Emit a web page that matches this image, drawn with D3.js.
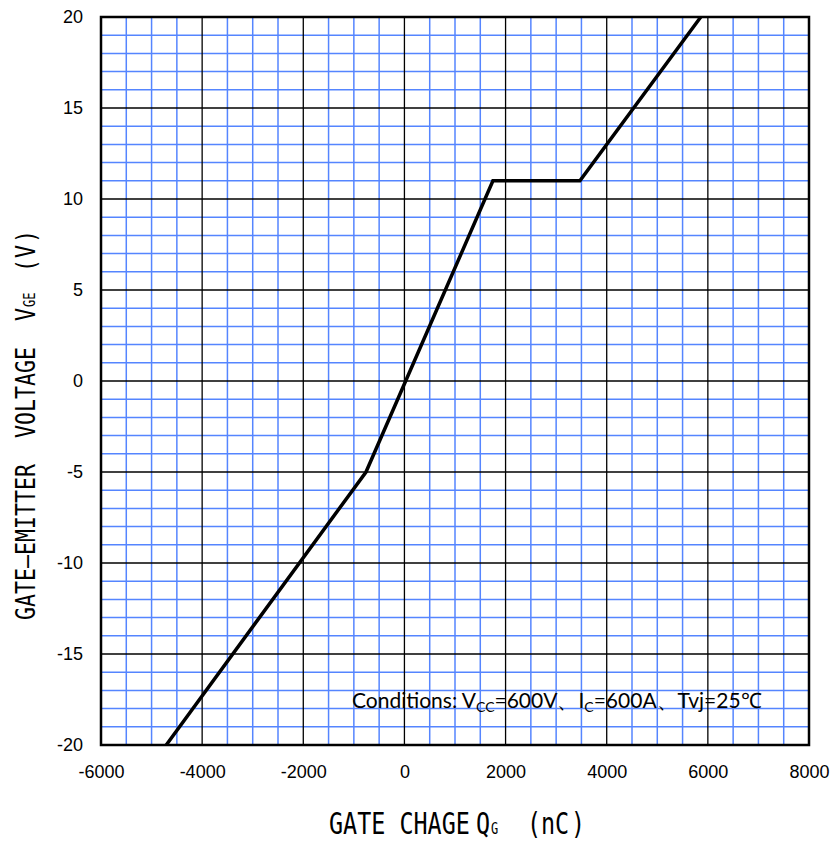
<!DOCTYPE html>
<html><head><meta charset="utf-8">
<script src="https://cdn.jsdelivr.net/npm/d3@7"></script>
<style>body{margin:0;background:#fff}</style>
</head><body>
<script>
const xTicks = [-6000,-4000,-2000,0,2000,4000,6000,8000];
const yTicks = [-20,-15,-10,-5,0,5,10,15,20];
const qG = [-4710,-760,1750,3470,5860];
const vGE = [-20,-5,11,11,20];

const W=834,H=843;
const m={l:101,t:17,w:708,h:728};
const svg=d3.select("body").append("svg").attr("width",W).attr("height",H);
const x=d3.scaleLinear().domain([-6000,8000]).range([m.l,m.l+m.w]);
const y=d3.scaleLinear().domain([-20,20]).range([m.t+m.h,m.t]);

const g=svg.append("g");
const xMinor=d3.range(-6000,8001,500).filter(v=>v%2000!==0);
const yMinor=d3.range(-20,21,1).filter(v=>v%5!==0);
const blue="#5585ff";
g.selectAll(".vx").data(xMinor).join("line").attr("x1",d=>x(d)).attr("x2",d=>x(d)).attr("y1",m.t).attr("y2",m.t+m.h).attr("stroke",blue).attr("stroke-width",1.5);
g.selectAll(".hy").data(yMinor).join("line").attr("y1",d=>y(d)).attr("y2",d=>y(d)).attr("x1",m.l).attr("x2",m.l+m.w).attr("stroke",blue).attr("stroke-width",1.5);
g.selectAll(".vX").data(xTicks).join("line").attr("x1",d=>x(d)).attr("x2",d=>x(d)).attr("y1",m.t).attr("y2",m.t+m.h).attr("stroke","#000").attr("stroke-width",1.3);
g.selectAll(".hY").data(yTicks).join("line").attr("y1",d=>y(d)).attr("y2",d=>y(d)).attr("x1",m.l).attr("x2",m.l+m.w).attr("stroke","#000").attr("stroke-width",1.3);
svg.append("rect").attr("x",m.l).attr("y",m.t).attr("width",m.w).attr("height",m.h).attr("fill","none").attr("stroke","#000").attr("stroke-width",2.5);

const xa=d3.axisBottom(x).tickValues(xTicks).tickSize(0).tickPadding(20).tickFormat(d=>String(d));
svg.append("g").attr("transform",`translate(0,${m.t+m.h})`).call(xa)
  .call(s=>s.select(".domain").remove())
  .selectAll("text").attr("font-family","Liberation Sans, Arial").attr("font-size",18).attr("fill","#000");
const ya=d3.axisLeft(y).tickValues(yTicks).tickSize(0).tickPadding(18).tickFormat(d=>String(d));
svg.append("g").attr("transform",`translate(${m.l},0)`).call(ya)
  .call(s=>s.select(".domain").remove())
  .selectAll("text").attr("font-family","Liberation Sans, Arial").attr("font-size",18).attr("fill","#000");

const pts=qG.map((q,i)=>[q,vGE[i]]);
svg.append("path").datum(pts).attr("d",d3.line().x(d=>x(d[0])).y(d=>y(d[1])))
  .attr("fill","none").attr("stroke","#000").attr("stroke-width",3.5).attr("stroke-linejoin","miter");

function mono(parent,str,px,py,size,sx){
  parent.append("text").attr("transform",`translate(${px},${py}) scale(${sx},1)`)
    .attr("font-family","DejaVu Sans Mono").attr("font-size",size).attr("fill","#000").text(str);
}
// x title
const xg=svg.append("g");
mono(xg,"GATE CHAGE",329,834,30,0.78);
mono(xg,"Q",476,834,30,0.78);
mono(xg,"G",491,834,15,0.8);
mono(xg,"(",527,834,30,0.78);
mono(xg,"nC",541,834,30,0.78);
mono(xg,")",571,834,30,0.78);

// y title
const yg=svg.append("g").attr("transform","translate(35,620) rotate(-90)");
mono(yg,"GATE\u2014EMITTER",0,0,27,0.8);
mono(yg,"VOLTAGE",182,0,27,0.8);
mono(yg,"V",299,0,27,0.8);
mono(yg,"GE",313,0,15,0.8);
mono(yg,"(",348,0,27,0.8);
mono(yg,"V",362,0,27,0.8);
mono(yg,")",377,0,27,0.8);

// conditions
const ct=svg.append("text").attr("x",352).attr("y",708).attr("font-family","Lato, Open Sans").attr("font-size",21).attr("fill","#000");
ct.append("tspan").text("Conditions: V");
ct.append("tspan").attr("font-size",14).attr("dy",4).text("CC");
ct.append("tspan").attr("dy",-4).text("=600V、I");
ct.append("tspan").attr("font-size",14).attr("dy",4).text("C");
ct.append("tspan").attr("dy",-4).text("=600A、Tvj=25℃");
</script>
</body></html>
